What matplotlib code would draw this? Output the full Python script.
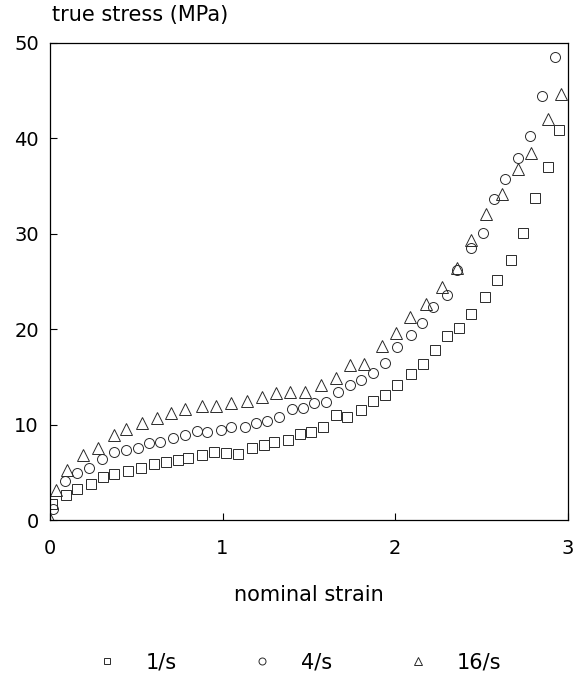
import matplotlib
matplotlib.use("Agg")
import matplotlib.pyplot as plt

# nominal strain / true stress (MPa)
strain_1 = [0.01, 0.09, 0.155, 0.235, 0.305, 0.37, 0.45, 0.53, 0.60, 0.67, 0.74, 0.80,
            0.88, 0.95, 1.02, 1.09, 1.17, 1.24, 1.30, 1.38, 1.45, 1.51, 1.58, 1.66,
            1.72, 1.80, 1.87, 1.94, 2.01, 2.09, 2.16, 2.23, 2.30, 2.37, 2.44, 2.52,
            2.59, 2.67, 2.74, 2.81, 2.885, 2.95]
stress_1 = [1.7, 2.6, 3.3, 3.8, 4.5, 4.8, 5.1, 5.5, 5.9, 6.1, 6.3, 6.5,
            6.8, 7.1, 7.0, 6.9, 7.5, 7.9, 8.2, 8.4, 9.0, 9.2, 9.7, 11.0,
            10.8, 11.5, 12.5, 13.1, 14.1, 15.3, 16.4, 17.8, 19.3, 20.1, 21.6, 23.4,
            25.2, 27.3, 30.1, 33.8, 37.0, 40.9]

strain_4 = [0.017, 0.086, 0.155, 0.224, 0.30, 0.37, 0.44, 0.51, 0.575, 0.64, 0.71, 0.78,
            0.85, 0.91, 0.99, 1.05, 1.13, 1.195, 1.26, 1.33, 1.40, 1.465, 1.53, 1.60,
            1.67, 1.74, 1.80, 1.87, 1.94, 2.01, 2.09, 2.155, 2.22, 2.30, 2.36, 2.44,
            2.51, 2.575, 2.64, 2.71, 2.78, 2.85, 2.925]
stress_4 = [1.2, 4.1, 4.9, 5.5, 6.4, 7.1, 7.3, 7.6, 8.1, 8.2, 8.6, 8.9,
            9.3, 9.2, 9.4, 9.7, 9.8, 10.2, 10.4, 10.8, 11.6, 11.7, 12.3, 12.4,
            13.4, 14.1, 14.7, 15.4, 16.5, 18.1, 19.4, 20.7, 22.3, 23.6, 26.2, 28.5,
            30.1, 33.7, 35.7, 37.9, 40.3, 44.4, 48.5]

strain_16 = [0.0, 0.034, 0.098, 0.19, 0.276, 0.37, 0.44, 0.535, 0.62, 0.70, 0.78, 0.88,
             0.96, 1.05, 1.14, 1.23, 1.31, 1.39, 1.48, 1.57, 1.655, 1.74, 1.82, 1.925,
             2.006, 2.086, 2.18, 2.27, 2.36, 2.44, 2.53, 2.62, 2.71, 2.79, 2.885, 2.965]
stress_16 = [0.1, 3.1, 5.2, 6.8, 7.5, 8.9, 9.5, 10.2, 10.7, 11.2, 11.6, 11.9,
             11.9, 12.3, 12.5, 12.9, 13.3, 13.4, 13.4, 14.1, 14.9, 16.2, 16.4, 18.2,
             19.6, 21.3, 22.6, 24.4, 26.4, 29.3, 32.1, 34.2, 36.8, 38.5, 42.0, 44.7]

x_ticks = [0, 1, 2, 3]
y_ticks = [0, 10, 20, 30, 40, 50]

fig = plt.figure(figsize=(5.75, 6.75), dpi=100)
ax = fig.add_axes([0.087, 0.2296, 0.900, 0.7067])

mk = dict(linestyle="none", markerfacecolor="none", markeredgecolor="#2a2a2a", markeredgewidth=0.7)
ax.plot(strain_1, stress_1, marker="s", markersize=6.5, label="1/s", **mk)
ax.plot(strain_4, stress_4, marker="o", markersize=7.2, label="4/s", **mk)
ax.plot(strain_16, stress_16, marker="^", markersize=8, label="16/s", **mk)

ax.set_xlim(0, 3)
ax.set_ylim(0, 50)
ax.set_xticks(x_ticks)
ax.set_yticks(y_ticks)
ax.tick_params(direction="in", length=5, width=0.8, labelsize=14)
ax.tick_params(axis="y", pad=8)
ax.tick_params(axis="x", pad=14)
for s in ax.spines.values():
    s.set_linewidth(0.9)

fig.text(0.0904, 0.978, "true stress (MPa)", fontsize=15, va="center", ha="left")
fig.text(0.537, 1 - 595 / 675, "nominal strain", fontsize=15, va="center", ha="center")

fig.legend(loc="center left", bbox_to_anchor=(96.6 / 575, 1 - 662 / 675), ncol=3,
           frameon=False, fontsize=15, markerscale=0.7, handlelength=1.0,
           handletextpad=1.37, columnspacing=3.59, borderpad=0, borderaxespad=0)

fig.savefig("out.png", dpi=100)
